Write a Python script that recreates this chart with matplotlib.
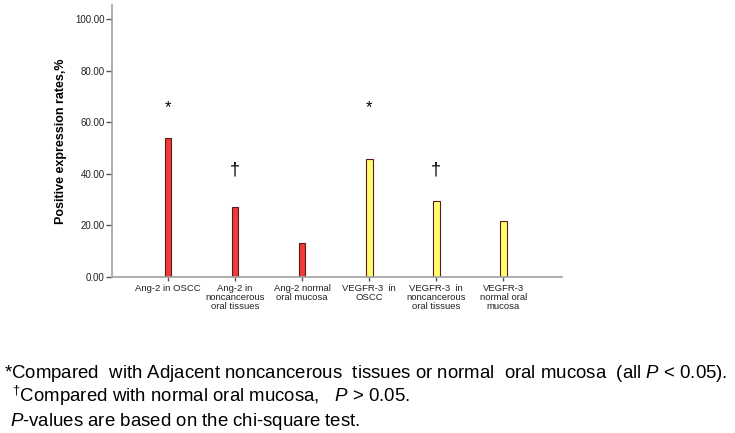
import matplotlib.pyplot as plt

# data
groups = ["Ang-2 in OSCC", "Ang-2 in\nnoncancerous\noral tissues", "Ang-2 normal\noral mucosa",
          "VEGFR-3  in\nOSCC", "VEGFR-3  in\nnoncancerous\noral tissues", "VEGFR-3\nnormal oral\nmucosa"]
rates = [53.8, 27.3, 13.4, 45.7, 29.5, 21.6]
bar_colors = ["#f23a3a", "#f23a3a", "#f23a3a", "#ffff6e", "#ffff6e", "#ffff6e"]
marks = ["*", "\u2020", "", "*", "\u2020", ""]
mark_y = [65.5, 41.5, 0, 65.5, 41.5, 0]
yticks = [0, 20, 40, 60, 80, 100]

plt.rcParams["font.family"] = ["Liberation Sans", "DejaVu Sans"]
plt.rcParams["mathtext.fontset"] = "custom"
plt.rcParams["mathtext.it"] = "Liberation Sans:italic"
plt.rcParams["mathtext.rm"] = "Liberation Sans"

fig = plt.figure(figsize=(7.35, 4.33), dpi=100)
ax = fig.add_axes([0.152, 0.36, 0.613, 0.628])

x = list(range(len(groups)))
ax.bar(x, rates, width=0.1, color=bar_colors, edgecolor="#5a1a1a", linewidth=0.8)
for i, m in enumerate(marks):
    if m:
        ax.text(i, mark_y[i], m, ha="center", va="center", fontsize=12 if m == "*" else 13)

ax.set_xlim(-0.84, 5.88)
ax.set_ylim(0, 105.3)
ax.set_xticks(x)
ax.set_xticklabels(groups, fontsize=6.8, color="#222222", linespacing=1.0)
ax.set_yticks(yticks)
ax.set_yticklabels(["%.2f" % v for v in yticks], fontsize=7, color="#222222")
ax.set_ylabel("Positive expression rates,%", fontsize=9, fontweight="bold", labelpad=6)

for side in ["top", "right"]:
    ax.spines[side].set_visible(False)
for side in ["left", "bottom"]:
    ax.spines[side].set_color("#a0a0a0")
    ax.spines[side].set_linewidth(1.2)
ax.tick_params(axis="y", length=4, width=1, color="#555555", pad=1)
ax.tick_params(axis="x", length=3, width=1, color="#555555", pad=2)

# footnotes
notes = [
    ("*Compared  with Adjacent noncancerous  tissues or normal  oral mucosa  (all $\\it{P}$ < 0.05).", 0.006, 0.127),
    ("$^{\u2020}$Compared with normal oral mucosa,   $\\it{P}$ > 0.05.", 0.016, 0.072),
    ("$\\it{P}$-values are based on the chi-square test.", 0.014, 0.017),
]
for txt, xx, yy in notes:
    fig.text(xx, yy, txt, fontsize=13.4, va="baseline", ha="left")

fig.savefig("out.png", dpi=100)
